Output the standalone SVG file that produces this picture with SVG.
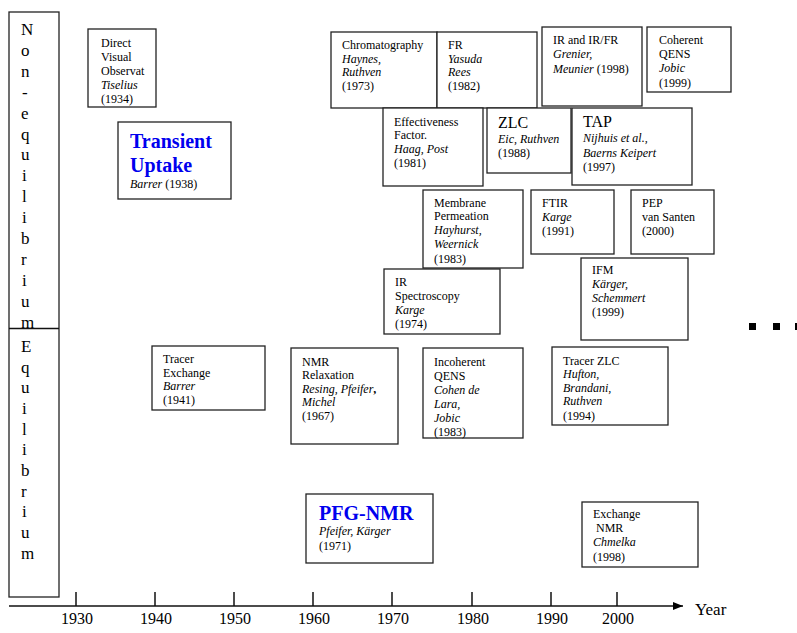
<svg xmlns="http://www.w3.org/2000/svg" width="797" height="633" viewBox="0 0 797 633">
<style>
text{font-family:"Liberation Serif","Times New Roman",serif;fill:#000;}
.b{fill:#fff;stroke:#222;stroke-width:1.3;}
.t{font-size:12px;}
.i{font-style:italic;}
.big{font-size:20px;font-weight:bold;fill:#0000ee;}
.m{font-size:16px;}
.v{font-size:17px;}
.ax{font-size:16px;text-anchor:middle;}
.ln{stroke:#111;stroke-width:1.5;fill:none;}
</style>
<defs>
<marker id="arr" markerWidth="10" markerHeight="8" refX="10" refY="4" orient="auto" markerUnits="userSpaceOnUse">
<path d="M0,0 L10,4 L0,8 Z" fill="#000"/>
</marker>
</defs>

<g id="side-labels">
<rect class="b" x="9" y="12" width="50" height="585"/>
<line class="ln" x1="9" y1="328.5" x2="59" y2="328.5" style="stroke-width:1.3"/>
<g class="v">
<text x="21" y="35">N</text>
<text x="21" y="56">o</text>
<text x="21" y="77">n</text>
<text x="22" y="98">-</text>
<text x="21" y="119">e</text>
<text x="21" y="140">q</text>
<text x="21" y="160">u</text>
<text x="22" y="181">i</text>
<text x="22" y="202">l</text>
<text x="22" y="223">i</text>
<text x="21" y="244">b</text>
<text x="21" y="265">r</text>
<text x="22" y="286">i</text>
<text x="21" y="307">u</text>
<text x="21" y="328">m</text>
<text x="21" y="352">E</text>
<text x="21" y="373">q</text>
<text x="21" y="393">u</text>
<text x="22" y="414">i</text>
<text x="22" y="435">l</text>
<text x="22" y="455">i</text>
<text x="21" y="476">b</text>
<text x="21" y="497">r</text>
<text x="22" y="517">i</text>
<text x="21" y="538">u</text>
<text x="21" y="559">m</text>
</g>
</g>

<g id="connectors">
<line class="ln" x1="9" y1="606" x2="683" y2="606" marker-end="url(#arr)"/>
<line class="ln" x1="76" y1="592" x2="76" y2="606"/>
<line class="ln" x1="155" y1="592" x2="155" y2="606"/>
<line class="ln" x1="234" y1="592" x2="234" y2="606"/>
<line class="ln" x1="313" y1="592" x2="313" y2="606"/>
<line class="ln" x1="392" y1="592" x2="392" y2="606"/>
<line class="ln" x1="472" y1="592" x2="472" y2="606"/>
<line class="ln" x1="551" y1="592" x2="551" y2="606"/>
<line class="ln" x1="617" y1="592" x2="617" y2="606"/>
</g>

<g id="axis-labels">
<text class="ax" x="77" y="624">1930</text>
<text class="ax" x="156" y="624">1940</text>
<text class="ax" x="235" y="624">1950</text>
<text class="ax" x="314" y="624">1960</text>
<text class="ax" x="393" y="624">1970</text>
<text class="ax" x="473" y="624">1980</text>
<text class="ax" x="552" y="624">1990</text>
<text class="ax" x="618" y="624">2000</text>
<text class="v" x="695" y="615">Year</text>
</g>

<g id="ellipsis">
<rect x="749" y="323" width="7" height="7" fill="#000"/>
<rect x="773" y="323" width="7" height="7" fill="#000"/>
<rect x="795" y="323" width="7" height="7" fill="#000"/>
</g>

<g id="direct-visual">
<rect class="b" x="88" y="29" width="68" height="78"/>
<text class="t" x="101" y="47">Direct</text>
<text class="t" x="101" y="61">Visual</text>
<text class="t" x="101" y="75">Observat</text>
<text class="t i" x="101" y="89">Tiselius</text>
<text class="t" x="101" y="103">(1934)</text>
</g>

<g id="transient-uptake">
<rect class="b" x="118" y="122" width="113" height="77"/>
<text class="big" x="130" y="148">Transient</text>
<text class="big" x="130" y="172">Uptake</text>
<text class="t" x="130" y="188"><tspan class="i">Barrer</tspan> (1938)</text>
</g>

<g id="chromatography">
<rect class="b" x="331" y="32" width="106" height="76"/>
<text class="t" x="342" y="49">Chromatography</text>
<text class="t i" x="342" y="63">Haynes,</text>
<text class="t i" x="342" y="76">Ruthven</text>
<text class="t" x="342" y="90">(1973)</text>
</g>

<g id="fr">
<rect class="b" x="437" y="32" width="100" height="76"/>
<text class="t" x="448" y="49">FR</text>
<text class="t i" x="448" y="63">Yasuda</text>
<text class="t i" x="448" y="76">Rees</text>
<text class="t" x="448" y="90">(1982)</text>
</g>

<g id="ir-irfr">
<rect class="b" x="542" y="27" width="100" height="79"/>
<text class="t" x="553" y="44">IR and IR/FR</text>
<text class="t i" x="553" y="58">Grenier,</text>
<text class="t" x="553" y="73"><tspan class="i">Meunier</tspan> (1998)</text>
</g>

<g id="coherent-qens">
<rect class="b" x="647" y="27" width="84" height="65"/>
<text class="t" x="659" y="44">Coherent</text>
<text class="t" x="659" y="58">QENS</text>
<text class="t i" x="659" y="72">Jobic</text>
<text class="t" x="659" y="87">(1999)</text>
</g>

<g id="effectiveness">
<rect class="b" x="383" y="108" width="100" height="78"/>
<text class="t" x="394" y="126">Effectiveness</text>
<text class="t" x="394" y="139">Factor.</text>
<text class="t i" x="394" y="153">Haag, Post</text>
<text class="t" x="394" y="167">(1981)</text>
</g>

<g id="zlc">
<rect class="b" x="487" y="108" width="84" height="65"/>
<text class="m" x="498" y="128">ZLC</text>
<text class="t i" x="498" y="143">Eic, Ruthven</text>
<text class="t" x="498" y="157">(1988)</text>
</g>

<g id="tap">
<rect class="b" x="572" y="108" width="120" height="77"/>
<text class="m" x="583" y="127">TAP</text>
<text class="t i" x="583" y="142">Nijhuis et al.,</text>
<text class="t i" x="583" y="157">Baerns Keipert</text>
<text class="t" x="583" y="171">(1997)</text>
</g>

<g id="membrane">
<rect class="b" x="423" y="190" width="100" height="78"/>
<text class="t" x="434" y="207">Membrane</text>
<text class="t" x="434" y="220">Permeation</text>
<text class="t i" x="434" y="234">Hayhurst,</text>
<text class="t i" x="434" y="248">Weernick</text>
<text class="t" x="434" y="263">(1983)</text>
</g>

<g id="ftir">
<rect class="b" x="531" y="190" width="83" height="64"/>
<text class="t" x="542" y="207">FTIR</text>
<text class="t i" x="542" y="221">Karge</text>
<text class="t" x="542" y="235">(1991)</text>
</g>

<g id="pep">
<rect class="b" x="631" y="190" width="83" height="64"/>
<text class="t" x="642" y="207">PEP</text>
<text class="t" x="642" y="221">van Santen</text>
<text class="t" x="642" y="235">(2000)</text>
</g>

<g id="ir-spectroscopy">
<rect class="b" x="384" y="269" width="116" height="65"/>
<text class="t" x="395" y="286">IR</text>
<text class="t" x="395" y="300">Spectroscopy</text>
<text class="t i" x="395" y="314">Karge</text>
<text class="t" x="395" y="328">(1974)</text>
</g>

<g id="ifm">
<rect class="b" x="581" y="258" width="107" height="82"/>
<text class="t" x="592" y="274">IFM</text>
<text class="t i" x="592" y="288">Kärger,</text>
<text class="t i" x="592" y="302">Schemmert</text>
<text class="t" x="592" y="316">(1999)</text>
</g>

<g id="tracer-exchange">
<rect class="b" x="152" y="346" width="113" height="64"/>
<text class="t" x="163" y="363">Tracer</text>
<text class="t" x="163" y="377">Exchange</text>
<text class="t i" x="163" y="390">Barrer</text>
<text class="t" x="163" y="404">(1941)</text>
</g>

<g id="nmr-relaxation">
<rect class="b" x="291" y="348" width="107" height="96"/>
<text class="t" x="302" y="366">NMR</text>
<text class="t" x="302" y="379">Relaxation</text>
<text class="t" x="302" y="393"><tspan class="i">Resing, Pfeifer</tspan><tspan font-weight="bold">,</tspan></text>
<text class="t i" x="302" y="406">Michel</text>
<text class="t" x="302" y="420">(1967)</text>
</g>

<g id="incoherent-qens">
<rect class="b" x="423" y="348" width="100" height="90"/>
<text class="t" x="434" y="366">Incoherent</text>
<text class="t" x="434" y="380">QENS</text>
<text class="t i" x="434" y="394">Cohen de</text>
<text class="t i" x="434" y="408">Lara,</text>
<text class="t i" x="434" y="422">Jobic</text>
<text class="t" x="434" y="436">(1983)</text>
</g>

<g id="tracer-zlc">
<rect class="b" x="552" y="347" width="116" height="78"/>
<text class="t" x="563" y="365">Tracer ZLC</text>
<text class="t i" x="563" y="378">Hufton,</text>
<text class="t i" x="563" y="392">Brandani,</text>
<text class="t i" x="563" y="405">Ruthven</text>
<text class="t" x="563" y="420">(1994)</text>
</g>

<g id="pfg-nmr">
<rect class="b" x="306" y="494" width="127" height="69"/>
<text class="big" x="319" y="520">PFG-NMR</text>
<text class="t i" x="319" y="535">Pfeifer, Kärger</text>
<text class="t" x="319" y="550">(1971)</text>
</g>

<g id="exchange-nmr">
<rect class="b" x="582" y="502" width="116" height="65"/>
<text class="t" x="593" y="518">Exchange</text>
<text class="t" x="593" y="532" xml:space="preserve"> NMR</text>
<text class="t i" x="593" y="546">Chmelka</text>
<text class="t" x="593" y="561">(1998)</text>
</g>
</svg>
